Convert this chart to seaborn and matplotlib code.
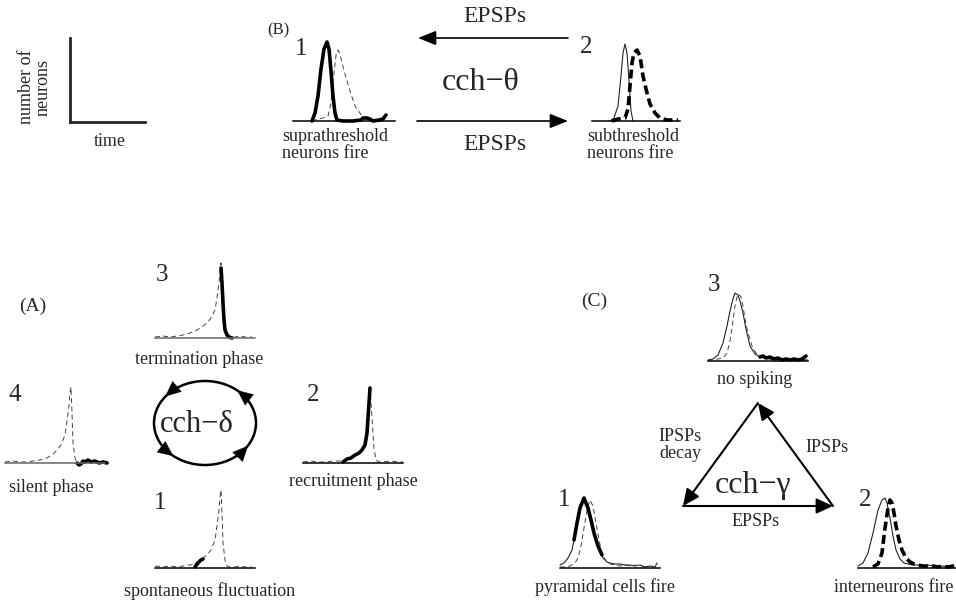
import numpy as np
import pandas as pd
import matplotlib.pyplot as plt
import matplotlib.patches as mpatches
import seaborn as sns

sns.set_style('white')
plt.rcParams['font.family'] = ['Liberation Serif', 'DejaVu Serif']

W, H = 956, 600

# --- (B) cch-theta : x = time offset (px), y = number of neurons (px)
b1_fire_x = [19, 22, 25, 28, 31, 34, 36, 38, 40, 42, 44, 50, 60, 68, 70, 74, 77, 80, 86, 90, 93]
b1_fire_y = [0, 8, 25, 52, 72, 79, 72, 50, 25, 8, 1, 0, 0, 1, 3, 3, 2, 0, 1, 2, 6]
b1_sub_x = [19, 25, 30, 35, 38, 41, 43, 45, 47, 49, 52, 57, 62, 69, 75]
b1_sub_y = [0, 2, 3, 5, 18, 48, 66, 71, 67, 58, 47, 30, 15, 5, 1]

b2_supra_x = [18, 22, 26, 29, 31, 33, 35, 37, 39, 41]
b2_supra_y = [0, 3, 15, 45, 68, 77, 68, 40, 10, 0]
b2_fire_x = [20, 26, 33, 36, 38, 40, 42, 45, 48, 51, 55, 58, 63, 68, 75, 82, 86]
b2_fire_y = [0, 2, 3, 12, 35, 58, 68, 71, 65, 45, 28, 17, 8, 3, 1, 1, 1]

# --- (A) cch-delta
a1_all_x = [0, 8, 15, 22, 28, 35, 40, 44, 48, 52, 56, 60, 62, 64, 65, 66, 67, 68, 70, 72, 75, 80, 85, 90, 97]
a1_all_y = [2, 1, 2, 1, 2, 3, 4, 7, 10, 13, 18, 28, 42, 58, 70, 78, 55, 25, 8, 2, 1, 1, 2, 1, 1]
a1_fire_x = [40, 42, 44, 46, 48]
a1_fire_y = [1, 4, 6, 8, 9]

a2_all_x = [0, 8, 15, 22, 30, 38, 45, 52, 58, 62, 64, 66, 67, 69, 71, 73, 76, 80, 88, 95, 100]
a2_all_y = [1, 2, 1, 1, 2, 2, 4, 7, 11, 18, 35, 60, 75, 45, 15, 3, 1, 1, 2, 1, 1]
a2_fire_x = [40, 44, 48, 52, 56, 59, 62, 64, 65, 66, 67]
a2_fire_y = [1, 4, 5, 8, 10, 13, 18, 30, 45, 60, 75]

a3_all_x = [0, 8, 15, 22, 28, 35, 42, 48, 52, 56, 60, 62, 64, 65, 66, 67, 68, 70, 72, 75, 80, 85, 90, 97]
a3_all_y = [1, 2, 1, 2, 3, 5, 8, 12, 15, 20, 28, 40, 55, 68, 75, 60, 30, 8, 2, 1, 1, 2, 1, 1]
a3_fire_x = [66, 67, 68, 69, 70, 72, 74, 77]
a3_fire_y = [70, 55, 35, 18, 8, 3, 1, 0]

a4_all_x = [0, 8, 15, 22, 28, 35, 42, 48, 52, 56, 60, 62, 64, 65, 66, 67, 68, 70, 72]
a4_all_y = [1, 2, 1, 1, 2, 3, 5, 9, 13, 18, 28, 42, 58, 70, 76, 50, 20, 5, 0]
a4_fire_x = [72, 74, 76, 78, 80, 83, 86, 90, 94, 98, 102]
a4_fire_y = [0, -2, -1, 2, 1, 3, 1, 2, 0, 1, 0]

# --- (C) cch-gamma
c1_pyr_x = [0, 4, 8, 12, 14, 17, 20, 24, 28, 31, 34, 38, 43, 47, 50, 55, 60, 65, 70, 75, 80, 85, 90, 95, 97]
c1_pyr_y = [3, 5, 10, 18, 28, 45, 60, 70, 60, 48, 35, 22, 10, 6, 5, 4, 4, 3, 3, 2, 3, 1, 2, 1, 5]
c1_fire_x = [14, 17, 20, 24, 28, 31, 34, 38, 42]
c1_fire_y = [28, 45, 60, 70, 60, 48, 35, 22, 13]
c1_int_x = [0, 5, 10, 15, 18, 21, 24, 27, 30, 33, 36, 39, 42, 46, 50, 55, 60, 65, 70, 75, 80, 85, 90]
c1_int_y = [1, 1, 2, 5, 10, 22, 40, 58, 68, 62, 45, 28, 15, 7, 4, 3, 2, 3, 2, 3, 2, 1, 1]

c2_pyr_x = [0, 5, 10, 15, 20, 24, 27, 29, 32, 35, 38, 42, 46, 50, 55, 60, 65, 70, 75, 80, 85, 90, 95]
c2_pyr_y = [2, 5, 15, 35, 58, 68, 70, 65, 50, 32, 18, 9, 5, 4, 3, 3, 2, 3, 2, 1, 2, 1, 2]
c2_fire_x = [15, 20, 24, 27, 30, 32, 34, 36, 38, 41, 44, 48, 52, 56, 60, 65, 70, 75, 80, 85, 90, 95, 98]
c2_fire_y = [1, 4, 15, 40, 60, 68, 65, 55, 42, 28, 18, 10, 6, 4, 3, 2, 2, 2, 1, 2, 1, 2, 3]

c3_pyr_x = [0, 5, 10, 15, 19, 22, 25, 27, 30, 32, 35, 38, 42, 47, 52, 57, 65, 75, 85, 95, 100]
c3_pyr_y = [1, 2, 6, 18, 35, 50, 62, 68, 66, 60, 48, 32, 15, 7, 4, 3, 2, 2, 1, 1, 1]
c3_int_x = [0, 5, 10, 15, 19, 22, 25, 27, 29, 31, 33, 35, 37, 40, 44, 48, 52, 56, 62, 70, 80, 90, 100]
c3_int_y = [1, 1, 2, 3, 8, 20, 40, 55, 64, 67, 64, 55, 42, 28, 15, 8, 4, 3, 2, 1, 1, 1, 1]
c3_fire_x = [52, 55, 58, 62, 66, 70, 74, 78, 82, 86, 90, 94, 98]
c3_fire_y = [4, 5, 3, 4, 2, 3, 1, 2, 1, 2, 1, 2, 5]

STY = {
    'thin': dict(lw=0.8, linestyle='-', color='#222222'),
    'thick': dict(lw=2.6, linestyle='-', color='k'),
    'dash': dict(lw=0.7, linestyle=(0, (5, 3.5)), color='#444444'),
    'thickdash': dict(lw=2.6, linestyle=(0, (2.5, 1.2)), color='k'),
}

fig = plt.figure(figsize=(W / 100, H / 100), dpi=100)
ax = fig.add_axes([0, 0, 1, 1])
ax.set_xlim(0, W)
ax.set_ylim(H, 0)
ax.axis('off')


def mini(x0, y0, w=100, base='k'):
    a = fig.add_axes([x0 / W, 1 - y0 / H, w / W, 85 / H])
    a.set_xlim(0, w)
    a.set_ylim(0, 85)
    a.patch.set_alpha(0)
    for s in ['top', 'right', 'left']:
        a.spines[s].set_visible(False)
    a.spines['bottom'].set_color(base)
    a.spines['bottom'].set_linewidth(1.1)
    a.set_xticks([])
    a.set_yticks([])
    return a


def curve(a, x, y, kind):
    sns.lineplot(x=x, y=y, ax=a, **STY[kind])
    for l in a.lines:
        l.set_clip_on(False)
    a.set_xlabel('')
    a.set_ylabel('')


def txt(x, y, s, size=13, **kw):
    ax.text(x, y, s, fontsize=size, ha=kw.pop('ha', 'center'), va=kw.pop('va', 'center'), **kw)


def arrow(p0, p1, lw=1.3, hl=0.5, hw=0.22):
    ax.annotate('', xy=p1, xytext=p0,
                arrowprops=dict(arrowstyle=f'-|>,head_length={hl},head_width={hw}',
                                color='k', lw=lw, shrinkA=0, shrinkB=0, mutation_scale=20))


# axis key
key = fig.add_axes([70 / W, 1 - 122 / H, 75 / W, 84 / H])
sns.despine(ax=key)
key.spines['left'].set_linewidth(2)
key.spines['bottom'].set_linewidth(2)
key.set_xticks([])
key.set_yticks([])
key.patch.set_alpha(0)
txt(35, 87, 'number of\nneurons', rotation=90, linespacing=0.95)
txt(110, 142, 'time')

# (B)
txt(278, 30, '(B)', size=12)
txt(301, 49, '1', size=18)
txt(586, 47, '2', size=18)
m = mini(293, 121, 102)
curve(m, b1_sub_x, b1_sub_y, 'dash')
curve(m, b1_fire_x, b1_fire_y, 'thick')
m = mini(592, 121, 88)
curve(m, b2_supra_x, b2_supra_y, 'thin')
curve(m, b2_fire_x, b2_fire_y, 'thickdash')
txt(282, 145, 'suprathreshold\nneurons fire', ha='left', linespacing=0.95)
txt(587, 145, 'subthreshold\nneurons fire', ha='left', linespacing=0.95)
arrow((568, 38), (418, 38), lw=1.2, hl=0.55, hw=0.22)
arrow((417, 121), (568, 121), lw=1.2, hl=0.55, hw=0.22)
txt(495, 17, 'EPSPs', size=17)
txt(495, 145, 'EPSPs', size=17)
txt(481, 83, 'cch\u2212\u03b8', size=23)

# (A)
txt(33, 306, '(A)', size=14)
txt(162, 275, '3', size=18)
txt(15, 395, '4', size=18)
txt(313, 395, '2', size=18)
txt(160, 503, '1', size=18)
m = mini(155, 338, base='#666666')
curve(m, a3_all_x, a3_all_y, 'dash')
curve(m, a3_fire_x, a3_fire_y, 'thick')
m = mini(303, 463)
curve(m, a2_all_x, a2_all_y, 'dash')
curve(m, a2_fire_x, a2_fire_y, 'thick')
m = mini(5, 463, base='#666666')
curve(m, a4_all_x, a4_all_y, 'dash')
curve(m, a4_fire_x, a4_fire_y, 'thick')
m = mini(155, 568)
curve(m, a1_all_x, a1_all_y, 'dash')
curve(m, a1_fire_x, a1_fire_y, 'thick')
txt(199, 360, 'termination phase')
txt(51, 487, 'silent phase')
txt(353, 482, 'recruitment phase')
txt(210, 591, 'spontaneous fluctuation')

cx, cy, ra, rb = 205, 423, 51, 42
ax.add_patch(mpatches.Ellipse((cx, cy), 2 * ra, 2 * rb, fill=False, lw=1.8, color='k'))
for t in [37.6, -46, -136, 133]:
    tr = np.deg2rad(t)
    px, py = cx + ra * np.cos(tr), cy + rb * np.sin(tr)
    dx, dy = ra * np.sin(tr), -rb * np.cos(tr)
    n = np.hypot(dx, dy)
    arrow((px - 6 * dx / n, py - 6 * dy / n), (px + 4 * dx / n, py + 4 * dy / n), lw=0.1, hl=0.55, hw=0.25)
txt(197, 424, 'cch\u2212\u03b4', size=22)

# (C)
txt(594, 301, '(C)', size=14)
txt(714, 285, '3', size=18)
txt(564, 500, '1', size=18)
txt(865, 500, '2', size=18)
m = mini(708, 361)
curve(m, c3_pyr_x, c3_pyr_y, 'thin')
curve(m, c3_int_x, c3_int_y, 'dash')
curve(m, c3_fire_x, c3_fire_y, 'thick')
m = mini(560, 568)
curve(m, c1_pyr_x, c1_pyr_y, 'thin')
curve(m, c1_int_x, c1_int_y, 'dash')
curve(m, c1_fire_x, c1_fire_y, 'thick')
m = mini(858, 568, 100)
curve(m, c2_pyr_x, c2_pyr_y, 'thin')
curve(m, c2_fire_x, c2_fire_y, 'thickdash')
txt(755, 380, 'no spiking')
txt(605, 587, 'pyramidal cells fire')
txt(894, 587, 'interneurons fire')

top, bl, br = (758, 403), (683, 506), (833, 506)
arrow(bl, br, lw=1.5, hl=0.5, hw=0.23)
arrow(br, top, lw=1.5, hl=0.5, hw=0.23)
arrow(top, bl, lw=1.5, hl=0.5, hw=0.23)
txt(680, 445, 'IPSPs\ndecay', linespacing=1.0)
txt(827, 448, 'IPSPs')
txt(753, 486, 'cch\u2212\u03b3', size=23)
txt(756, 522, 'EPSPs')

fig.savefig('out.png', dpi=100)
